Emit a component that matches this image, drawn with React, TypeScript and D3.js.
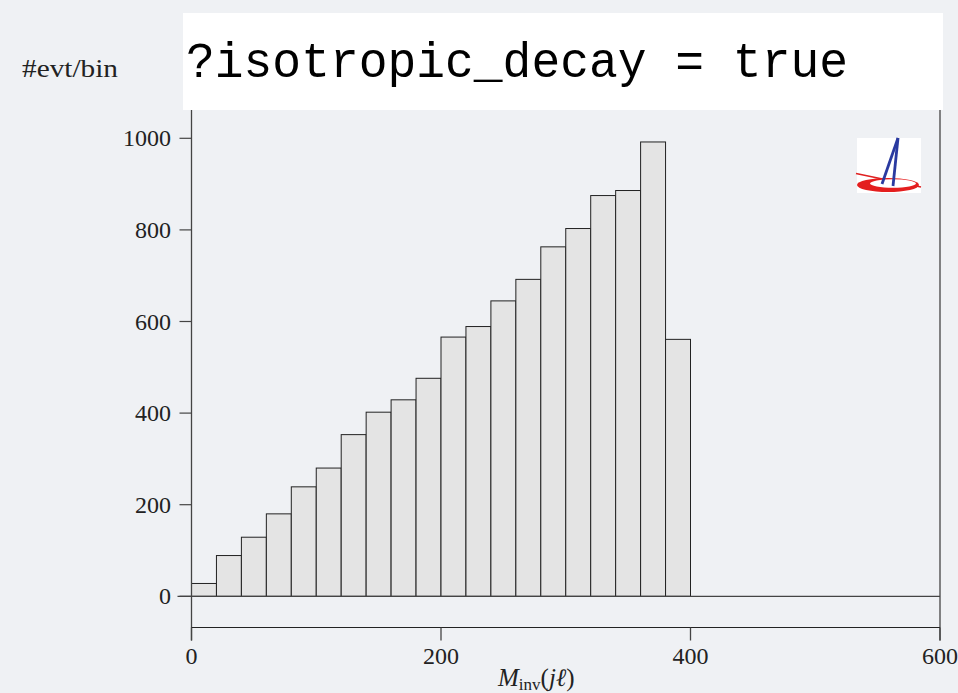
import React from "react";
import * as d3 from "d3";

const binStart = 0;
const binWidth = 20;
const counts = [28, 89, 129, 180, 239, 280, 353, 402, 429, 476, 566, 589, 645, 692, 763, 803, 875, 886, 992, 561];
const xTicks = [0, 200, 400, 600];
const yTicks = [0, 200, 400, 600, 800, 1000];
const titleText = "?isotropic_decay = true";
const yLabel = "#evt/bin";

export default function App() {
  const x = d3.scaleLinear().domain([0, 600]).range([191.5, 940]);
  const y = d3.scaleLinear().domain([0, 1000]).range([596.3, 138.3]);
  const bins = counts.map((c, i) => ({ x0: binStart + i * binWidth, x1: binStart + (i + 1) * binWidth, c }));
  const axisColor = "#444";
  const serif = "'Liberation Serif', 'Times New Roman', serif";
  const xAxisY = 627.5;
  return (
    <svg width={958} height={693} style={{ position: "absolute", left: 0, top: 0, background: "#eff1f4" }}>
      <rect x={0} y={0} width={958} height={693} fill="#eff1f4" />
      {/* bars */}
      {bins.map((b, i) => (
        <rect key={i} x={x(b.x0)} y={y(b.c)} width={x(b.x1) - x(b.x0)} height={y(0) - y(b.c)}
          fill="#e4e4e4" stroke="#222" strokeWidth={1} />
      ))}
      {/* frame */}
      <line x1={x(0)} x2={x(0)} y1={100} y2={xAxisY + 13} stroke={axisColor} strokeWidth={1.3} />
      <line x1={x(600)} x2={x(600)} y1={100} y2={xAxisY + 13} stroke={axisColor} strokeWidth={1.3} />
      <line x1={x(0) - 14} x2={x(600)} y1={y(0)} y2={y(0)} stroke={axisColor} strokeWidth={1.2} />
      <line x1={x(0)} x2={x(600)} y1={xAxisY} y2={xAxisY} stroke="#222" strokeWidth={1.2} />
      {/* y ticks */}
      {yTicks.map((t) => (
        <g key={t}>
          <line x1={x(0) - 12} x2={x(0)} y1={y(t)} y2={y(t)} stroke={axisColor} strokeWidth={1.2} />
          <text x={171} y={y(t) + 8} textAnchor="end" fontFamily={serif} fontSize={24} fill="#222">{t}</text>
        </g>
      ))}
      {/* x ticks */}
      {xTicks.map((t) => (
        <g key={t}>
          <line x1={x(t)} x2={x(t)} y1={xAxisY} y2={xAxisY + 13} stroke={axisColor} strokeWidth={1.3} />
          <text x={x(t)} y={664} textAnchor="middle" fontFamily={serif} fontSize={24} fill="#222">{t}</text>
        </g>
      ))}
      {/* x label */}
      <text x={498} y={686} fontFamily={serif} fontSize={25} fill="#222">
        <tspan fontStyle="italic">M</tspan>
        <tspan fontSize={17} dy={4}>inv</tspan>
        <tspan dy={-4}>(</tspan>
        <tspan fontStyle="italic">jℓ</tspan>
        <tspan>)</tspan>
      </text>
      {/* y label */}
      <text x={22} y={77} fontFamily={serif} fontSize={25} fill="#222" textLength={96} lengthAdjust="spacingAndGlyphs">{yLabel}</text>
      {/* title box */}
      <rect x={183} y={13} width={760} height={97} fill="#ffffff" />
      <text x={186} y={77} fontFamily="'Liberation Mono', 'DejaVu Sans Mono', monospace" fontSize={50} fill="#000" textLength={662} lengthAdjust="spacingAndGlyphs">{titleText}</text>
      {/* logo */}
      <g>
        <rect x={857} y={138} width={64} height={55} fill="#fff" />
        <line x1={856} y1={173.5} x2={921} y2={187} stroke="#e02020" strokeWidth={1.5} />
        <ellipse cx={888} cy={185} rx={31} ry={7} fill="#e41e1e" />
        <ellipse cx={893} cy={183.5} rx={23} ry={4.2} fill="#fff" />
        <line x1={898} y1={138} x2={882} y2={184} stroke="#2a3aa0" strokeWidth={2.8} />
        <line x1={898} y1={138} x2={893} y2={186} stroke="#2a3aa0" strokeWidth={2.8} />
      </g>
    </svg>
  );
}
